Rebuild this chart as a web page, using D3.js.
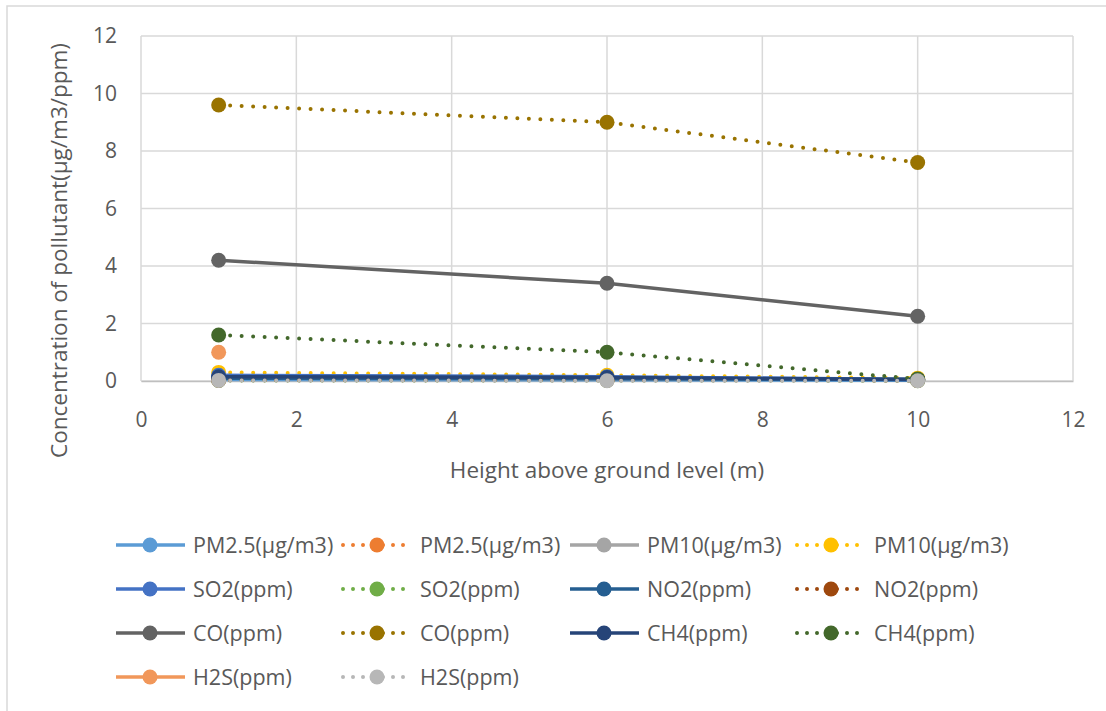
<!DOCTYPE html>
<html>
<head>
<meta charset="utf-8">
<script src="https://cdn.jsdelivr.net/npm/d3@7"></script>
<style>
  body { margin: 0; background: #fff; }
  text { font-family: "Open Sans", "Noto Sans", sans-serif; fill: #595959; }
</style>
</head>
<body>
<div id="chart"></div>
<script>
// heights (m)
const heights = [1, 6, 10];

const seriesNames = ['PM2.5(µg/m3)', 'PM2.5(µg/m3)', 'PM10(µg/m3)', 'PM10(µg/m3)',
                     'SO2(ppm)', 'SO2(ppm)', 'NO2(ppm)', 'NO2(ppm)',
                     'CO(ppm)', 'CO(ppm)', 'CH4(ppm)', 'CH4(ppm)',
                     'H2S(ppm)', 'H2S(ppm)'];
const seriesDotted = [false, true, false, true, false, true, false, true, false, true, false, true, false, true];
const seriesColors = ['#5B9BD5', '#ED7D31', '#A5A5A5', '#FFC000', '#4472C4', '#70AD47', '#255E91', '#9E480E',
                      '#636363', '#997300', '#264478', '#43682B', '#F1975A', '#B7B7B7'];
const seriesValues = [
  [0.05, 0.04, 0.03],
  [0.08, 0.06, 0.05],
  [0.1, 0.08, 0.06],
  [0.3, 0.2, 0.1],
  [0.2, 0.15, 0.05],
  [0.02, 0.02, 0.01],
  [0.1, 0.08, 0.05],
  [0.03, 0.03, 0.02],
  [4.2, 3.4, 2.25],
  [9.6, 9.0, 7.6],
  [0.15, 0.12, 0.05],
  [1.6, 1.0, 0.07],
  [1.0, null, null],
  [0.02, 0.01, 0.01]
];

const xTicks = [0, 2, 4, 6, 8, 10, 12];
const yTicks = [0, 2, 4, 6, 8, 10, 12];

const w = 1106;
const h = 711;
const plot = {left: 141, right: 1073, top: 36, bottom: 381};

const svg = d3.select('#chart')
              .append('svg')
              .attr('width', w)
              .attr('height', h);

// chart frame
svg.append('rect')
   .attr('x', 7).attr('y', 6)
   .attr('width', w + 10).attr('height', h + 10)
   .attr('fill', 'none')
   .attr('stroke', '#D9D9D9')
   .attr('stroke-width', 1.5);

const xScale = d3.scaleLinear().domain([0, 12]).range([plot.left, plot.right]);
const yScale = d3.scaleLinear().domain([0, 12]).range([plot.bottom, plot.top]);

// grid
svg.append('g')
   .selectAll('line')
   .data(yTicks)
   .enter()
   .append('line')
   .attr('x1', plot.left).attr('x2', plot.right)
   .attr('y1', d => yScale(d)).attr('y2', d => yScale(d))
   .attr('stroke', '#D9D9D9').attr('stroke-width', 1.5);

svg.append('g')
   .selectAll('line')
   .data(xTicks)
   .enter()
   .append('line')
   .attr('x1', d => xScale(d)).attr('x2', d => xScale(d))
   .attr('y1', plot.top).attr('y2', plot.bottom)
   .attr('stroke', '#D9D9D9').attr('stroke-width', 1.5);

// axes (labels only, Excel style)
const xAxis = d3.axisBottom(xScale).tickValues(xTicks).tickSize(0).tickPadding(31);
const yAxis = d3.axisLeft(yScale).tickValues(yTicks).tickSize(0).tickPadding(24);

svg.append('g')
   .attr('transform', `translate(0, ${plot.bottom})`)
   .call(xAxis)
   .call(g => g.select('.domain').attr('stroke', '#BFBFBF').attr('stroke-width', 1.5))
   .call(g => g.selectAll('text').style('font-size', '21px').attr('fill', '#595959'));

svg.append('g')
   .attr('transform', `translate(${plot.left}, 0)`)
   .call(yAxis)
   .call(g => g.select('.domain').remove())
   .call(g => g.selectAll('text').style('font-size', '21px').attr('fill', '#595959'));

// axis titles
svg.append('text')
   .attr('x', (plot.left + plot.right) / 2)
   .attr('y', 478)
   .attr('text-anchor', 'middle')
   .style('font-size', '22.5px')
   .text('Height above ground level (m)');

svg.append('text')
   .attr('transform', `translate(67, ${(plot.top + plot.bottom) / 2 + 42}) rotate(-90)`)
   .attr('text-anchor', 'middle')
   .style('font-size', '22.5px')
   .text('Concentration of pollutant(µg/m3/ppm)');

// lines
const line = d3.line()
               .defined(d => d.v != null)
               .x(d => xScale(d.x))
               .y(d => yScale(d.v));

seriesValues.forEach((vals, i) => {
    const pts = vals.map((v, j) => ({x: heights[j], v: v}));
    const g = svg.append('g');
    g.append('path')
     .datum(pts)
     .attr('d', line)
     .attr('fill', 'none')
     .attr('stroke', seriesColors[i])
     .attr('stroke-width', seriesDotted[i] ? 4 : 3.5)
     .attr('stroke-linecap', 'round')
     .attr('stroke-dasharray', seriesDotted[i] ? '0 11.5' : null);
    g.selectAll('circle')
     .data(pts.filter(d => d.v != null))
     .enter()
     .append('circle')
     .attr('cx', d => xScale(d.x))
     .attr('cy', d => yScale(d.v))
     .attr('r', 7.5)
     .attr('fill', seriesColors[i]);
});

// legend
const legendX = [116, 343, 570, 797];
const legendY = [545, 589, 633, 677];

seriesNames.forEach((name, i) => {
    const lx = legendX[i % 4];
    const ly = legendY[Math.floor(i / 4)];
    const g = svg.append('g');
    g.append('line')
     .attr('x1', lx).attr('x2', lx + 69)
     .attr('y1', ly).attr('y2', ly)
     .attr('stroke', seriesColors[i])
     .attr('stroke-width', seriesDotted[i] ? 4 : 3.5)
     .attr('stroke-linecap', seriesDotted[i] ? 'round' : 'butt')
     .attr('stroke-dasharray', seriesDotted[i] ? '0 10' : null);
    g.append('circle')
     .attr('cx', lx + 34).attr('cy', ly)
     .attr('r', 7.5)
     .attr('fill', seriesColors[i]);
    g.append('text')
     .attr('x', lx + 77).attr('y', ly)
     .attr('dy', '0.35em')
     .style('font-size', '21.5px')
     .text(name);
});
</script>
</body>
</html>
